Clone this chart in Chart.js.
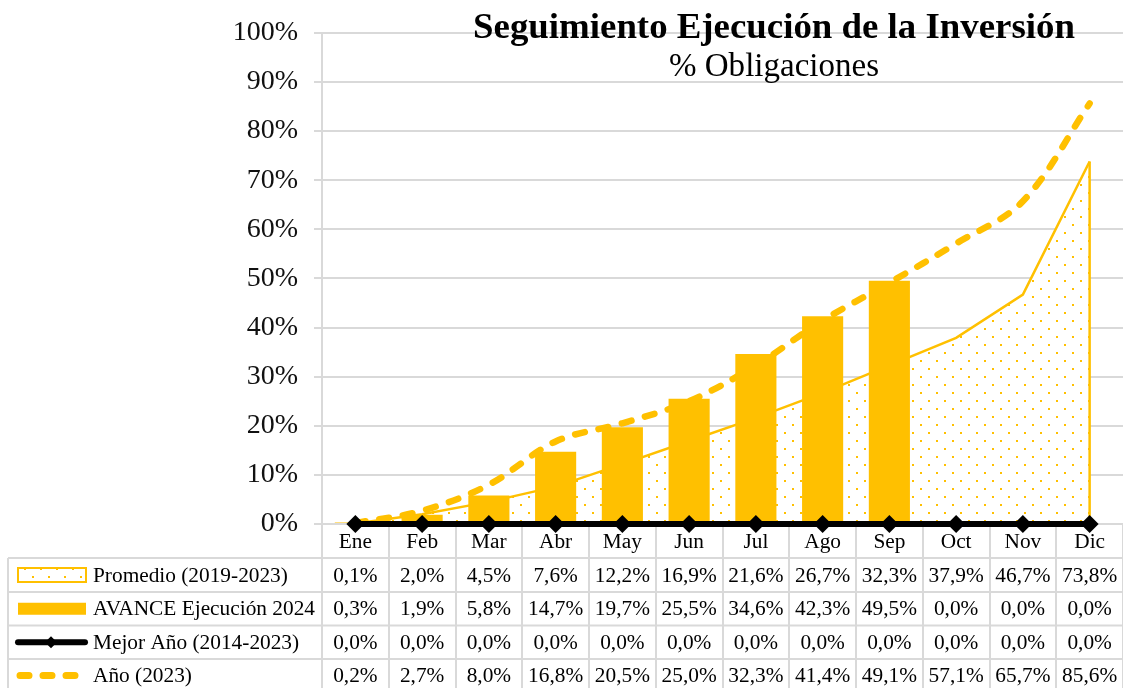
<!DOCTYPE html>
<html><head><meta charset="utf-8">
<script src="https://cdn.jsdelivr.net/npm/chart.js@4.4.0/dist/chart.umd.min.js"></script>
<style>html,body{margin:0;padding:0;background:#fff;overflow:hidden}canvas{display:block}</style>
</head><body><canvas id="c" width="1123" height="688"></canvas>
<script>
const categories = ['Ene','Feb','Mar','Abr','May','Jun','Jul','Ago','Sep','Oct','Nov','Dic'];
const promedio   = [0.1, 2.0, 4.5, 7.6, 12.2, 16.9, 21.6, 26.7, 32.3, 37.9, 46.7, 73.8];
const avance2024 = [0.3, 1.9, 5.8, 14.7, 19.7, 25.5, 34.6, 42.3, 49.5, 0.0, 0.0, 0.0];
const mejorAnio  = [0.0, 0.0, 0.0, 0.0, 0.0, 0.0, 0.0, 0.0, 0.0, 0.0, 0.0, 0.0];
const anio2023   = [0.2, 2.7, 8.0, 16.8, 20.5, 25.0, 32.3, 41.4, 49.1, 57.1, 65.7, 85.6];
const yTickValues = [0,10,20,30,40,50,60,70,80,90,100];
const seriesNames = ['Promedio (2019-2023)','AVANCE Ejecución 2024','Mejor Año (2014-2023)','Año (2023)'];
const titleText = 'Seguimiento Ejecución de la Inversión';
const subtitleText = '% Obligaciones';

const GOLD = '#FFC000';
const GRID = '#d9d9d9';
const FAMILY = '"Liberation Serif", "Times New Roman", serif';

function fitSize(text, weight, target){
  const m = document.createElement('canvas').getContext('2d');
  m.font = weight + ' 100px ' + FAMILY;
  return 100 * target / m.measureText(text).width;
}
const tableSize = Math.min(fitSize('Promedio (2019-2023)', 'normal', 210), fitSize('AVANCE Ejecución 2024', 'normal', 222));
const tickSize = Math.min(fitSize('100%', 'normal', 66), 28);
const titleSize = fitSize(titleText, 'bold', 602);
const subSize = fitSize(subtitleText, 'normal', 210);

function fmt(v){ return v.toFixed(1).replace('.', ',') + '%'; }

// dotted pattern
const pc = document.createElement('canvas'); pc.width = 16; pc.height = 16;
const pctx = pc.getContext('2d');
pctx.fillStyle = '#fff'; pctx.fillRect(0,0,16,16);
pctx.fillStyle = GOLD; pctx.fillRect(0,0,2,2); pctx.fillRect(8,8,2,2);
const pattern = document.getElementById('c').getContext('2d').createPattern(pc, 'repeat');

const tablePlugin = {
  id: 'dataTable',
  beforeDatasetsDraw(chart){
    const ctx = chart.ctx, x = chart.scales.x, area = chart.chartArea;
    const cw = (area.right - area.left) / categories.length;
    const top = area.bottom, rows = [top, 558, 592, 625.5, 659, 692];
    ctx.save();
    ctx.strokeStyle = GRID; ctx.lineWidth = 2;
    for (let i = 0; i <= categories.length; i++){
      const bx = Math.round(area.left + i * cw);
      ctx.beginPath(); ctx.moveTo(bx, top); ctx.lineTo(bx, 688); ctx.stroke();
    }
    ctx.beginPath(); ctx.moveTo(8, rows[1]); ctx.lineTo(8, 688); ctx.stroke();
    for (let r = 1; r < rows.length; r++){
      ctx.beginPath(); ctx.moveTo(8, rows[r]); ctx.lineTo(area.right, rows[r]); ctx.stroke();
    }
    ctx.fillStyle = '#000';
    ctx.font = 'normal ' + tableSize + 'px ' + FAMILY;
    ctx.textAlign = 'center'; ctx.textBaseline = 'middle';
    const series = [promedio, avance2024, mejorAnio, anio2023];
    categories.forEach((c, i) => {
      const cx = x.getPixelForValue(i);
      ctx.fillText(c, cx, (rows[0] + rows[1]) / 2 + 1);
      series.forEach((s, r) => {
        ctx.fillText(fmt(s[i]), cx, (rows[r+1] + rows[r+2]) / 2 + 1);
      });
    });
    ctx.textAlign = 'left';
    seriesNames.forEach((n, r) => {
      ctx.fillText(n, 93, (rows[r+1] + rows[r+2]) / 2 + 1);
    });
    const cy = r => (rows[r+1] + rows[r+2]) / 2;
    ctx.fillStyle = pattern; ctx.fillRect(18, cy(0) - 7, 68, 14);
    ctx.strokeStyle = GOLD; ctx.lineWidth = 2; ctx.strokeRect(18, cy(0) - 7, 68, 14);
    ctx.fillStyle = GOLD; ctx.fillRect(18, cy(1) - 6, 68, 12);
    ctx.strokeStyle = '#000'; ctx.lineWidth = 6; ctx.lineCap = 'round';
    ctx.beginPath(); ctx.moveTo(18, cy(2)); ctx.lineTo(85, cy(2)); ctx.stroke();
    ctx.fillStyle = '#000';
    ctx.beginPath(); ctx.moveTo(51, cy(2) - 6); ctx.lineTo(57, cy(2)); ctx.lineTo(51, cy(2) + 6); ctx.lineTo(45, cy(2)); ctx.closePath(); ctx.fill();
    ctx.strokeStyle = GOLD; ctx.lineWidth = 7; ctx.setLineDash([9, 14]);
    ctx.beginPath(); ctx.moveTo(20, cy(3)); ctx.lineTo(80, cy(3)); ctx.stroke();
    ctx.restore();
  }
};

const edgePlugin = {
  id: 'areaEdge',
  afterDatasetDraw(chart, args){
    if (args.index !== 0) return;
    const meta = chart.getDatasetMeta(0);
    const last = meta.data[meta.data.length - 1];
    const y0 = chart.scales.y.getPixelForValue(0);
    const ctx = chart.ctx;
    ctx.save(); ctx.strokeStyle = GOLD; ctx.lineWidth = 2.5;
    ctx.beginPath(); ctx.moveTo(last.x, last.y); ctx.lineTo(last.x, y0); ctx.stroke();
    ctx.restore();
  }
};

const titlePlugin = {
  id: 'titles',
  afterDraw(chart){
    const ctx = chart.ctx;
    ctx.save();
    ctx.fillStyle = '#000'; ctx.textAlign = 'center'; ctx.textBaseline = 'alphabetic';
    ctx.font = 'bold ' + titleSize + 'px ' + FAMILY;
    ctx.fillText(titleText, 774, 38);
    ctx.font = 'normal ' + subSize + 'px ' + FAMILY;
    ctx.fillText(subtitleText, 774, 76);
    ctx.restore();
  }
};

new Chart(document.getElementById('c'), {
  type: 'bar',
  data: {
    labels: categories,
    datasets: [
      { type: 'line', label: seriesNames[0], data: promedio, borderColor: GOLD, borderWidth: 2.5,
        backgroundColor: pattern, fill: 'origin', pointRadius: 0, tension: 0, order: 3, clip: false },
      { type: 'bar', label: seriesNames[1], data: avance2024, backgroundColor: GOLD,
        barPercentage: 0.77, categoryPercentage: 0.8, order: 2 },
      { type: 'line', label: seriesNames[2], data: mejorAnio, borderColor: '#000', borderWidth: 6,
        pointStyle: 'rectRot', pointRadius: 9, pointBackgroundColor: '#000', pointBorderColor: '#000',
        pointBorderWidth: 0, fill: false, order: 0, clip: false },
      { type: 'line', label: seriesNames[3], data: anio2023, borderColor: GOLD, borderWidth: 6.5,
        borderDash: [10, 14], borderCapStyle: 'round', pointRadius: 0, tension: 0.35,
        fill: false, order: 1, clip: false }
    ]
  },
  options: {
    responsive: false, animation: false,
    layout: { autoPadding: false, padding: { top: 30, bottom: 164, left: 0, right: 0 } },
    plugins: { legend: { display: false }, tooltip: { enabled: false }, title: { display: false } },
    scales: {
      x: { display: false, offset: true, grid: { display: false }, ticks: { display: false } },
      y: {
        min: 0, max: 100,
        afterFit(s){ s.width = 322; },
        afterBuildTicks(s){ s.ticks = yTickValues.map(v => ({ value: v })); },
        ticks: { callback: v => v + '%', font: { family: FAMILY, size: tickSize }, color: '#111', padding: 16 },
        grid: { color: GRID, lineWidth: 2, tickLength: 8 },
        border: { color: GRID, width: 2 }
      }
    }
  },
  plugins: [tablePlugin, edgePlugin, titlePlugin]
});
</script></body></html>
